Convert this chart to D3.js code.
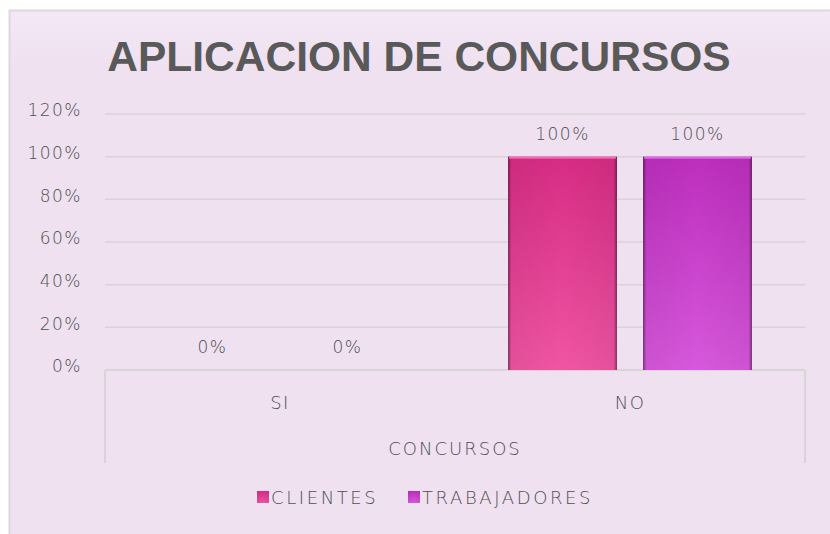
<!DOCTYPE html>
<html>
<head>
<meta charset="utf-8">
<script src="https://cdn.jsdelivr.net/npm/d3@7"></script>
<style>
  html, body { margin: 0; padding: 0; background: #fff; overflow: hidden; }
  svg { display: block; }
  .lbl { font-family: 'DejaVu Sans', sans-serif; font-weight: 200; fill: #505050; }
</style>
</head>
<body>
<script>
// chart values
const categories = ['SI', 'NO'];
const seriesNames = ['CLIENTES', 'TRABAJADORES'];
const clientes = [0, 1];
const trabajadores = [0, 1];
const yTicks = [0, 0.2, 0.4, 0.6, 0.8, 1.0, 1.2];

const width = 830;
const height = 534;
const plotLeft = 105, plotRight = 805, plotTop = 114, plotBottom = 370;

const svg = d3.select('body').append('svg')
   .attr('width', width)
   .attr('height', height);

const defs = svg.append('defs');

// panel background gradient
const bg = defs.append('linearGradient').attr('id', 'bg')
   .attr('x1', 0).attr('y1', 0).attr('x2', 0).attr('y2', 1);
bg.append('stop').attr('offset', '0').attr('stop-color', '#f4e8f6');
bg.append('stop').attr('offset', '0.1').attr('stop-color', '#efe1f0');
bg.append('stop').attr('offset', '1').attr('stop-color', '#efe1f0');

// bar gradients
const barColors = [
   { id: 'gClientes', top: '#d72c84', bottom: '#f055a3', hi: '#f46cb4' },
   { id: 'gTrab', top: '#bd2ebd', bottom: '#d758dc', hi: '#e06ae8' }
];
barColors.forEach(c => {
   const g = defs.append('linearGradient').attr('id', c.id)
      .attr('x1', 0).attr('y1', 0).attr('x2', 0).attr('y2', 1);
   g.append('stop').attr('offset', '0').attr('stop-color', c.top);
   g.append('stop').attr('offset', '1').attr('stop-color', c.bottom);
});
const edge = defs.append('linearGradient').attr('id', 'edge')
   .attr('x1', 0).attr('y1', 0).attr('x2', 1).attr('y2', 0);
edge.append('stop').attr('offset', '0').attr('stop-color', '#000').attr('stop-opacity', 0.45);
edge.append('stop').attr('offset', '0.03').attr('stop-color', '#000').attr('stop-opacity', 0.05);
edge.append('stop').attr('offset', '0.5').attr('stop-color', '#000').attr('stop-opacity', 0);
edge.append('stop').attr('offset', '0.97').attr('stop-color', '#000').attr('stop-opacity', 0.05);
edge.append('stop').attr('offset', '1').attr('stop-color', '#000').attr('stop-opacity', 0.45);

// chart panel
svg.append('rect')
   .attr('x', 9.5).attr('y', 10.5)
   .attr('width', 830).attr('height', 540)
   .attr('fill', 'url(#bg)')
   .attr('stroke', '#d9d9d9')
   .attr('stroke-width', 2);

// title
svg.append('text')
   .attr('x', 419).attr('y', 71)
   .attr('text-anchor', 'middle')
   .style('font-family', "'Liberation Sans', Arial, sans-serif")
   .style('font-weight', 'bold')
   .style('font-size', '42.5px')
   .attr('fill', '#595959')
   .text('APLICACION DE CONCURSOS');

// scales
const x0 = d3.scaleBand().domain(categories).range([plotLeft, plotRight]);
const x1 = d3.scaleBand().domain(seriesNames).range([0, x0.bandwidth()])
   .paddingInner(0.193).paddingOuter(0.393);
const y = d3.scaleLinear().domain([0, 1.2]).range([plotBottom, plotTop]);

// gridlines
svg.append('g')
   .selectAll('line')
   .data(yTicks.slice(1))
   .join('line')
   .attr('x1', plotLeft).attr('x2', plotRight)
   .attr('y1', d => y(d)).attr('y2', d => y(d))
   .attr('stroke', '#d8d4d8')
   .attr('stroke-width', 1.5);

// y axis
const yAxis = d3.axisLeft(y).tickValues(yTicks).tickFormat(d3.format('.0%')).tickSize(0).tickPadding(23);
const gy = svg.append('g').attr('transform', `translate(${plotLeft},0)`).call(yAxis);
gy.select('.domain').remove();
gy.selectAll('text')
   .attr('class', 'lbl')
   .style('font-size', '17px')
   .style('letter-spacing', '1.5px')
   .attr('dy', '0.1em');

// category axis box
const axisBox = svg.append('g').attr('fill', 'none').attr('stroke', '#d8d4d8').attr('stroke-width', 2);
axisBox.append('line').attr('x1', plotLeft).attr('x2', plotRight).attr('y1', plotBottom).attr('y2', plotBottom);
axisBox.append('line').attr('x1', plotLeft).attr('x2', plotLeft).attr('y1', plotBottom).attr('y2', 463);
axisBox.append('line').attr('x1', plotRight).attr('x2', plotRight).attr('y1', plotBottom).attr('y2', 463);

// bars
const rows = categories.map((c, i) => ({ cat: c, values: [clientes[i], trabajadores[i]] }));
const groups = svg.append('g').selectAll('g')
   .data(rows)
   .join('g')
   .attr('transform', d => `translate(${x0(d.cat)},0)`);

const bars = groups.selectAll('g.bar')
   .data(d => d.values.map((v, j) => ({ name: seriesNames[j], value: v, j: j })))
   .join('g').attr('class', 'bar');

bars.filter(d => d.value > 0).each(function(d) {
   const g = d3.select(this);
   const bx = x1(d.name), bw = x1.bandwidth();
   const by = y(d.value), bh = y(0) - y(d.value);
   g.append('rect').attr('x', bx).attr('y', by).attr('width', bw).attr('height', bh)
      .attr('fill', `url(#${barColors[d.j].id})`);
   g.append('rect').attr('x', bx).attr('y', by).attr('width', bw).attr('height', bh)
      .attr('fill', 'url(#edge)');
   g.append('rect').attr('x', bx + 1).attr('y', by).attr('width', bw - 2).attr('height', 2)
      .attr('fill', barColors[d.j].hi);
});

// data labels
bars.append('text')
   .attr('class', 'lbl')
   .attr('x', d => x1(d.name) + x1.bandwidth() / 2)
   .attr('y', d => y(d.value) - 17)
   .attr('text-anchor', 'middle')
   .style('font-size', '17px')
   .style('letter-spacing', '1.5px')
   .text(d => d3.format('.0%')(d.value));

// category labels
svg.append('g').selectAll('text')
   .data(categories)
   .join('text')
   .attr('class', 'lbl')
   .attr('x', d => x0(d) + x0.bandwidth() / 2)
   .attr('y', 409)
   .attr('text-anchor', 'middle')
   .style('font-size', '18px')
   .style('letter-spacing', '1.5px')
   .text(d => d);

svg.append('text')
   .attr('class', 'lbl')
   .attr('x', 455).attr('y', 455)
   .attr('text-anchor', 'middle')
   .style('font-size', '18px')
   .style('letter-spacing', '2px')
   .text('CONCURSOS');

// legend
const legendX = [257, 408];
const legend = svg.append('g').selectAll('g')
   .data(seriesNames)
   .join('g')
   .attr('transform', (d, i) => `translate(${legendX[i]},491)`);
legend.append('rect')
   .attr('width', 12).attr('height', 12)
   .attr('fill', (d, i) => `url(#${barColors[i].id})`);
legend.append('rect')
   .attr('width', 12).attr('height', 12)
   .attr('fill', 'url(#edge)');
legend.append('text')
   .attr('class', 'lbl')
   .attr('x', 14).attr('y', 12.5)
   .style('font-size', '18px')
   .style('letter-spacing', '2.6px')
   .text(d => d);
</script>
</body>
</html>
